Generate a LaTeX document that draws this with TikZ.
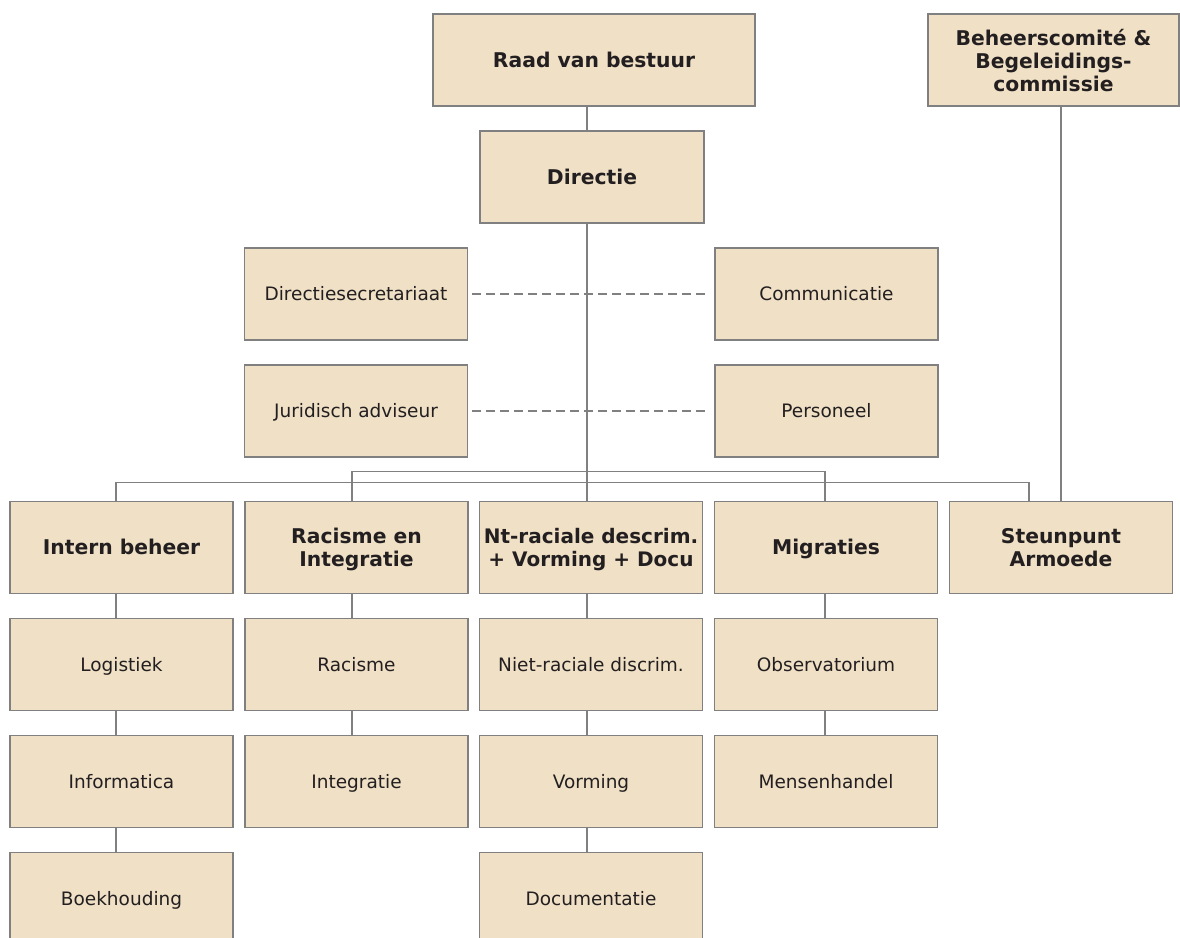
\documentclass[tikz,border=0pt]{standalone}
\usepackage{fontspec}
\setmainfont{DejaVu Sans}
\definecolor{boxfill}{RGB}{239,224,198}
\definecolor{boxline}{RGB}{128,128,128}
\definecolor{conn}{RGB}{128,128,128}
\definecolor{txt}{RGB}{35,31,32}
\begin{document}
\begin{tikzpicture}[x=1pt,y=-1pt,
  box/.style={draw=boxline, fill=boxfill, line width=1.5pt, minimum width=223pt, minimum height=92pt, inner sep=0pt, align=center, text=txt, text height=13.5pt, text depth=0pt, font=\fontsize{18.5}{22}\selectfont},
  hbox/.style={box, text height=14.8pt, font=\fontsize{20.3}{23}\selectfont\bfseries},
  mbox/.style={hbox, text height={}, text depth=0pt},
  link/.style={draw=conn, line width=1.4pt},
  dashlink/.style={draw=conn, line width=1.8pt, dash pattern=on 9pt off 5pt}]
\clip (0,0) rectangle (1180,937);
% top
\node[hbox, minimum width=322pt] (raad) at (594,60) {Raad van bestuur};
\node[hbox, minimum width=224pt] (dir) at (592,177) {Directie};
\node[mbox, minimum width=251pt] (beh) at (1053.5,60) {Beheerscomité \&\\Begeleidings-\\commissie};
% staff
\node[box] (sec) at (356,294) {Directiesecretariaat};
\node[box] (com) at (826.5,294) {Communicatie};
\node[box] (jur) at (356,411) {Juridisch adviseur};
\node[box] (pers) at (826.5,411) {Personeel};
% departments
\node[hbox] (intern) at (121.5,547.5) {Intern beheer};
\node[mbox] (rac) at (356.5,547.5) {Racisme en\\Integratie};
\node[mbox, font=\fontsize{20}{23}\selectfont\bfseries] (nt) at (591,547.5) {Nt-raciale descrim.\\+ Vorming + Docu};
\node[hbox] (mig) at (826,547.5) {Migraties};
\node[mbox] (steun) at (1061,547.5) {Steunpunt\\Armoede};
% row 2
\node[box] (log) at (121.5,664.5) {Logistiek};
\node[box] (racs) at (356.5,664.5) {Racisme};
\node[box] (niet) at (591,664.5) {Niet-raciale discrim.};
\node[box] (obs) at (826,664.5) {Observatorium};
% row 3
\node[box] (info) at (121.5,781.5) {Informatica};
\node[box] (integ) at (356.5,781.5) {Integratie};
\node[box] (vorm) at (591,781.5) {Vorming};
\node[box] (mens) at (826,781.5) {Mensenhandel};
% row 4
\node[box] (boek) at (121.5,898.5) {Boekhouding};
\node[box] (doc) at (591,898.5) {Documentatie};
% connectors
\draw[link] ([xshift=-7]raad.south) -- ([xshift=-5]dir.north);
\draw[link] ([xshift=-5]dir.south) -- ([xshift=-4]nt.north);
\draw[link] ([xshift=7.5]beh.south) -- (steun.north);
\draw[link] ([xshift=-5.5]intern.north) -- ++(0,-18) -| ([xshift=-32]steun.north);
\draw[link] ([xshift=-4.5]rac.north) -- ++(0,-29) -| ([xshift=-1]mig.north);
\draw[dashlink] ([xshift=4]sec.east) -- ([xshift=-5]com.west);
\draw[dashlink] ([xshift=4]jur.east) -- ([xshift=-5]pers.west);
% stacks
\draw[link] ([xshift=-5.5]intern.south) -- ([xshift=-5.5]log.north);
\draw[link] ([xshift=-5.5]log.south) -- ([xshift=-5.5]info.north);
\draw[link] ([xshift=-5.5]info.south) -- ([xshift=-5.5]boek.north);
\draw[link] ([xshift=-4.5]rac.south) -- ([xshift=-4.5]racs.north);
\draw[link] ([xshift=-4.5]racs.south) -- ([xshift=-4.5]integ.north);
\draw[link] ([xshift=-4]nt.south) -- ([xshift=-4]niet.north);
\draw[link] ([xshift=-4]niet.south) -- ([xshift=-4]vorm.north);
\draw[link] ([xshift=-4]vorm.south) -- ([xshift=-4]doc.north);
\draw[link] ([xshift=-1]mig.south) -- ([xshift=-1]obs.north);
\draw[link] ([xshift=-1]obs.south) -- ([xshift=-1]mens.north);
\end{tikzpicture}
\end{document}
